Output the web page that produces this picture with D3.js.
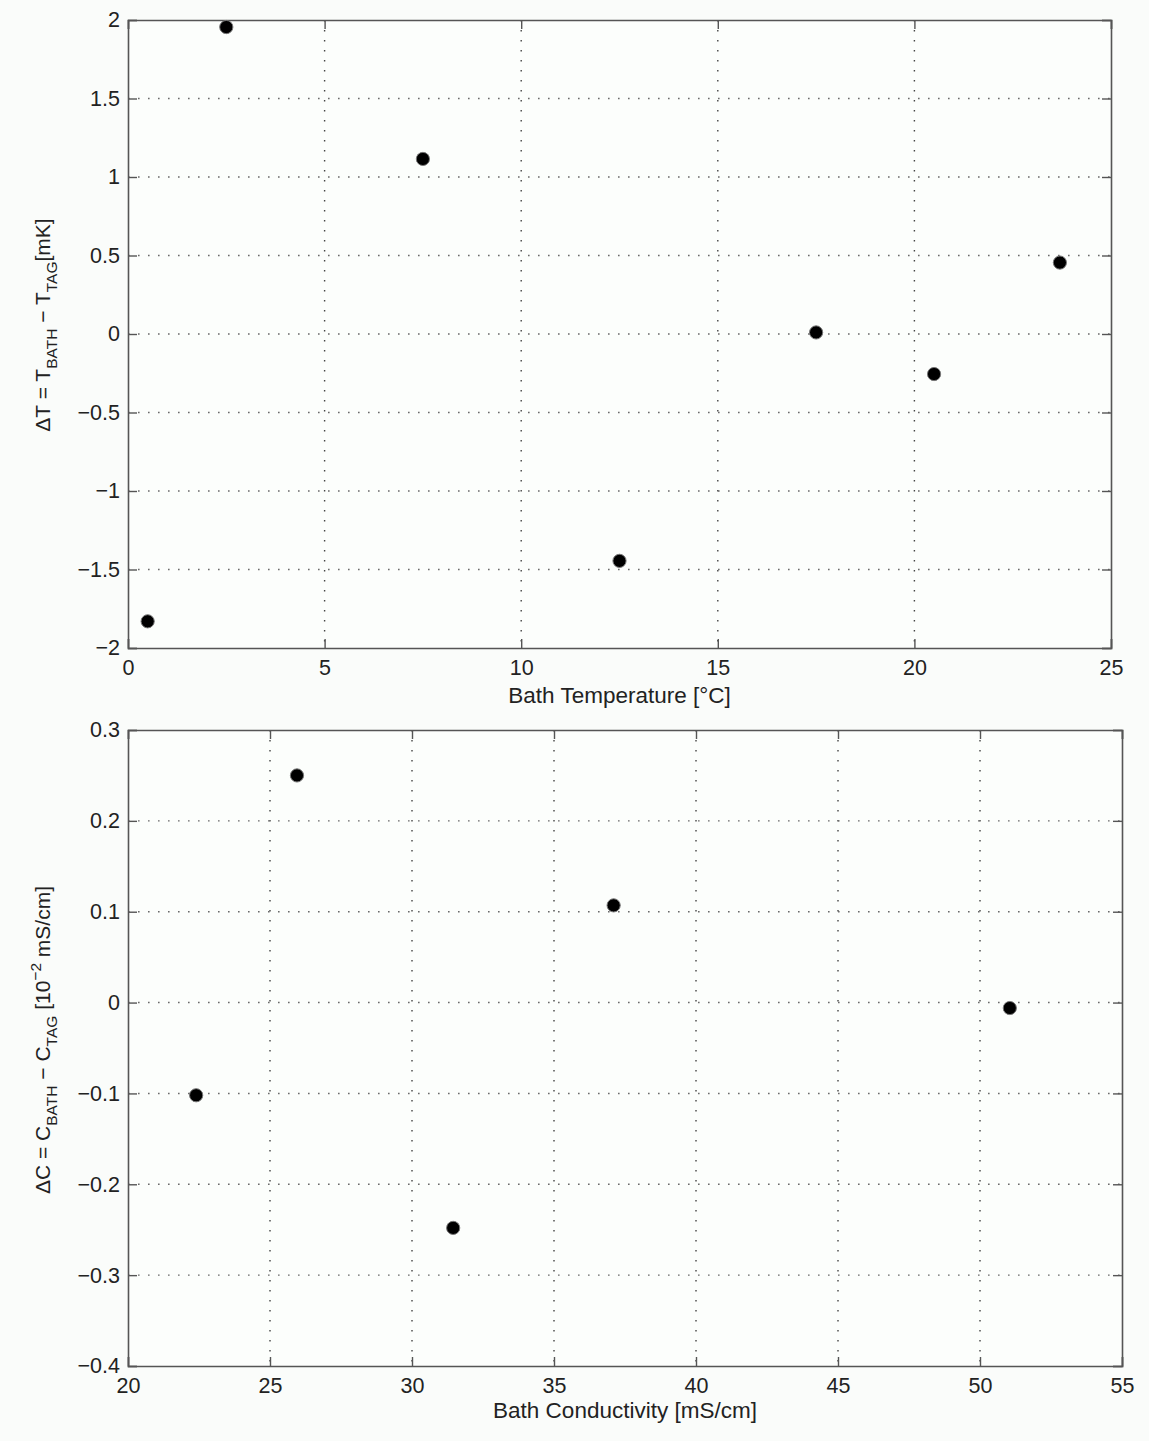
<!DOCTYPE html>
<html>
<head>
<meta charset="utf-8">
<script src="https://cdn.jsdelivr.net/npm/d3@7"></script>
<style>
  html, body { margin: 0; padding: 0; background: #fafcfa; }
  svg { display: block; }
  text { font-family: "Liberation Sans", Arial, sans-serif; fill: #222; }
</style>
</head>
<body>
<script>
// Temperature calibration residuals
const tempX = [0.5, 2.5, 7.5, 12.5, 17.5, 20.5, 23.7];
const tempDelta = [-1.83, 1.955, 1.115, -1.445, 0.01, -0.255, 0.455];
const tempXTicks = [0, 5, 10, 15, 20, 25];
const tempYTicks = [-2, -1.5, -1, -0.5, 0, 0.5, 1, 1.5, 2];

// Conductivity calibration residuals
const condX = [22.4, 25.95, 31.45, 37.1, 51.05];
const condDelta = [-0.102, 0.25, -0.248, 0.107, -0.006];
const condXTicks = [20, 25, 30, 35, 40, 45, 50, 55];
const condYTicks = [-0.4, -0.3, -0.2, -0.1, 0, 0.1, 0.2, 0.3];

const W = 1149, H = 1441;
const svg = d3.select("body").append("svg").attr("width", W).attr("height", H);
svg.append("rect").attr("width", W).attr("height", H).attr("fill", "#fafcfa");

const fmt = d => d3.format("")(d).replace("-", "\u2212");

function panel(opt) {
  const { left, right, top, bottom, xDomain, yDomain, xTicks, yTicks, xs, ys,
          xLabel, xLabelGap, yLabelParts, yLabelCenter } = opt;
  const x = d3.scaleLinear().domain(xDomain).range([left, right]);
  const y = d3.scaleLinear().domain(yDomain).range([bottom, top]);
  const g = svg.append("g");

  // plot area
  g.append("rect").attr("x", left).attr("y", top)
    .attr("width", right - left).attr("height", bottom - top)
    .attr("fill", "#fcfefc");

  // dotted grid
  const grid = g.append("g").attr("stroke", "#444").attr("stroke-width", 1.4)
    .attr("stroke-dasharray", "1.6,8.4");
  grid.selectAll(".gx").data(xTicks.slice(1, -1)).join("line")
    .attr("x1", d => x(d)).attr("x2", d => x(d))
    .attr("y1", top).attr("y2", bottom);
  grid.selectAll(".gy").data(yTicks.slice(1, -1)).join("line")
    .attr("x1", left).attr("x2", right)
    .attr("y1", d => y(d)).attr("y2", d => y(d))
    .attr("stroke", "#6a6a6a");

  // axes with inward ticks on all four sides
  const tk = 9;
  const ax = g.append("g");
  const bottomAxis = d3.axisBottom(x).tickValues(xTicks).tickSize(-tk).tickPadding(12).tickFormat(fmt);
  const topAxis = d3.axisTop(x).tickValues(xTicks).tickSize(-tk).tickFormat("");
  const leftAxis = d3.axisLeft(y).tickValues(yTicks).tickSize(-tk).tickPadding(8).tickFormat(fmt);
  const rightAxis = d3.axisRight(y).tickValues(yTicks).tickSize(-tk).tickFormat("");

  ax.append("g").attr("transform", `translate(0,${bottom})`).call(bottomAxis);
  ax.append("g").attr("transform", `translate(0,${top})`).call(topAxis);
  ax.append("g").attr("transform", `translate(${left},0)`).call(leftAxis);
  ax.append("g").attr("transform", `translate(${right},0)`).call(rightAxis);
  ax.selectAll(".domain").attr("stroke", "#555").attr("stroke-width", 1.6);
  ax.selectAll(".tick line").attr("stroke", "#555").attr("stroke-width", 1.4);
  ax.selectAll(".tick text").attr("font-size", 21.5).attr("fill", "#222");

  // markers
  g.append("g").selectAll("circle").data(xs.map((v, i) => [v, ys[i]])).join("circle")
    .attr("cx", d => x(d[0])).attr("cy", d => y(d[1])).attr("r", 6.6)
    .attr("fill", "#000").attr("stroke", "#777").attr("stroke-width", 1);

  // x label
  g.append("text").attr("x", (left + right) / 2).attr("y", bottom + xLabelGap)
    .attr("text-anchor", "middle").attr("font-size", 22.5).text(xLabel);

  // y label with sub/superscripts
  const yl = g.append("text")
    .attr("transform", `translate(50,${yLabelCenter}) rotate(-90)`)
    .attr("text-anchor", "middle").attr("font-size", 21);
  yLabelParts.forEach(p => {
    const t = yl.append("tspan").text(p.t);
    if (p.sub) t.attr("font-size", 15.5).attr("dy", 7);
    if (p.sup) t.attr("font-size", 15.5).attr("dy", -9);
    if (p.reset) t.attr("dy", p.reset);
  });
}

panel({
  left: 128, right: 1111, top: 20, bottom: 648,
  xDomain: [0, 25], yDomain: [-2, 2],
  xTicks: tempXTicks, yTicks: tempYTicks,
  xs: tempX, ys: tempDelta,
  xLabel: "Bath Temperature [\u00B0C]", xLabelGap: 55,
  yLabelCenter: 325,
  yLabelParts: [
    { t: "\u0394T = T" },
    { t: "BATH", sub: true },
    { t: " \u2212 T", reset: -7 },
    { t: "TAG", sub: true },
    { t: "[mK]", reset: -7 }
  ]
});

panel({
  left: 128, right: 1122, top: 730, bottom: 1366,
  xDomain: [20, 55], yDomain: [-0.4, 0.3],
  xTicks: condXTicks, yTicks: condYTicks,
  xs: condX, ys: condDelta,
  xLabel: "Bath Conductivity [mS/cm]", xLabelGap: 52,
  yLabelCenter: 1040,
  yLabelParts: [
    { t: "\u0394C = C" },
    { t: "BATH", sub: true },
    { t: " \u2212 C", reset: -7 },
    { t: "TAG", sub: true },
    { t: " [10", reset: -7 },
    { t: "\u22122", sup: true },
    { t: " mS/cm]", reset: 9 }
  ]
});
</script>
</body>
</html>
